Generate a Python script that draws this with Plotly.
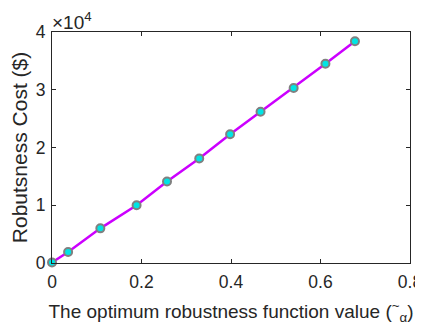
import plotly.graph_objects as go

alpha_vals = [0.0, 0.036, 0.108, 0.189, 0.257, 0.329, 0.398, 0.466, 0.540, 0.611, 0.677]
cost_vals = [100, 1900, 6000, 10000, 14100, 18100, 22300, 26200, 30300, 34500, 38400]
y_tick_vals = [0, 10000, 20000, 30000, 40000]
y_tick_text = ["0", "1", "2", "3", "4"]
x_tick_vals = [0, 0.2, 0.4, 0.6, 0.8]
x_tick_text = ["0", "0.2", "0.4", "0.6", "0.8"]

txt = "#262626"
fam = "Liberation Sans, Arial"
fig = go.Figure()
fig.add_trace(go.Scatter(
    x=alpha_vals, y=cost_vals, mode="lines+markers",
    line=dict(color="#cc00ff", width=2.5),
    marker=dict(size=8, color="#00e5e5", line=dict(color="#808080", width=2)),
    showlegend=False, cliponaxis=False,
))
axis_common = dict(
    showgrid=False, zeroline=False, showline=True, linecolor=txt, linewidth=1,
    mirror="ticks", ticks="inside", ticklen=4, tickcolor=txt, automargin=False,
    tickfont=dict(family=fam, size=17.5, color=txt),
)
fig.update_xaxes(range=[0, 0.8], tickvals=x_tick_vals, ticktext=x_tick_text, ticklabelstandoff=3,
                 title=dict(text="The optimum robustness function value (<sup>~</sup><sub>α</sub>)",
                            font=dict(family=fam, size=19, color=txt), standoff=13),
                 **axis_common)
fig.update_yaxes(range=[0, 40000], tickvals=y_tick_vals, ticktext=y_tick_text, ticklabelstandoff=2,
                 title=dict(text="Robutsness Cost ($)",
                            font=dict(family=fam, size=21, color=txt), standoff=3),
                 **axis_common)
fig.add_annotation(xref="paper", yref="paper", x=0, y=1, xanchor="left", yanchor="bottom",
                   text="×10<sup>4</sup>", showarrow=False, yshift=-3, xshift=-2,
                   font=dict(family=fam, size=19, color=txt))
fig.update_layout(width=415, height=321, margin=dict(l=44, r=13, t=24, b=66),
                  plot_bgcolor="white", paper_bgcolor="white")
fig.write_html("out.html")
